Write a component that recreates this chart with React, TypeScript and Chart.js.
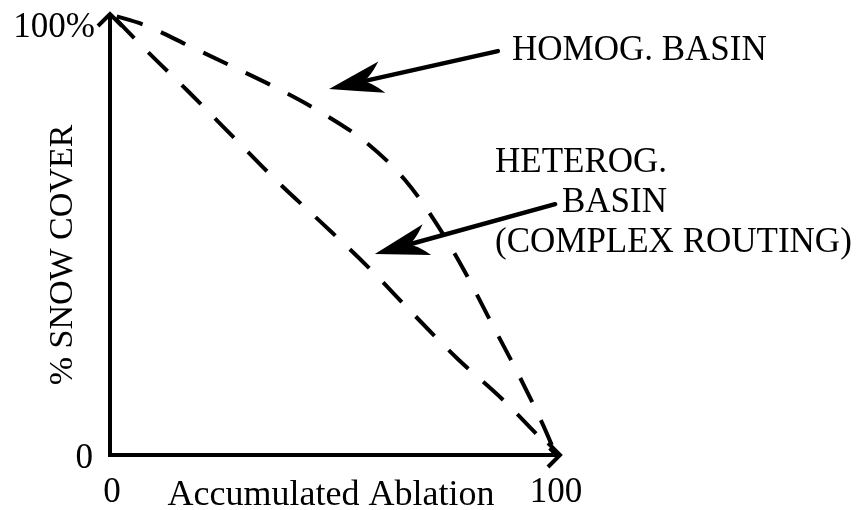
import { useEffect, useRef } from "react";
import { Chart, registerables } from "chart.js";

Chart.register(...registerables);

// Accumulated ablation (%) and snow cover (%)
const homogAblation = [0, 7.4, 16.9, 27.3, 36.7, 47.7, 57.4, 66.0, 73.0, 79.5, 85.1, 91.4, 97.1, 100];
const homogCover = [100, 97.7, 93.2, 88.2, 83.6, 77.5, 70.9, 62.5, 52.7, 41.6, 30.7, 18.6, 6.8, 0];

const heterogAblation = [0, 7.0, 17.3, 27.3, 37.4, 47.3, 57.7, 67.6, 77.7, 88.1, 96.4, 100];
const heterogCover = [100, 92.7, 82.5, 72.3, 62.0, 52.7, 42.7, 32.3, 22.0, 12.5, 3.9, 0];

const xTickLabels = ["0", "100"];
const yTickLabels = ["0", "100%"];
const xTitle = "Accumulated Ablation";
const yTitle = "% SNOW COVER";
const homogLabel = ["HOMOG. BASIN"];
const heterogLabel = ["HETEROG.", "BASIN", "(COMPLEX ROUTING)"];

// annotation arrows in data coordinates: [fromX, fromY, toX, toY]
const homogArrow = [86.9, 91.8, 48.9, 83.2];
const heterogArrow = [99.8, 57.0, 59.2, 45.7];

const FAMILY = '"Liberation Serif", "Times New Roman", serif';
const FONT = "35px " + FAMILY;

function filledArrow(ctx: CanvasRenderingContext2D, x1: number, y1: number, x2: number, y2: number) {
  const dx = x2 - x1, dy = y2 - y1;
  const len = Math.hypot(dx, dy);
  const ux = dx / len, uy = dy / len;
  const nx = -uy, ny = ux;
  const L = 54, W = 16, notch = 0.62 * L;
  ctx.beginPath();
  ctx.moveTo(x1, y1);
  ctx.lineTo(x2 - ux * notch, y2 - uy * notch);
  ctx.lineWidth = 4.5;
  ctx.lineCap = "round";
  ctx.stroke();
  ctx.beginPath();
  ctx.moveTo(x2, y2);
  ctx.quadraticCurveTo(x2 - ux * L * 0.5 + nx * W * 0.5, y2 - uy * L * 0.5 + ny * W * 0.5, x2 - ux * L + nx * W, y2 - uy * L + ny * W);
  ctx.quadraticCurveTo(x2 - ux * L * 0.75, y2 - uy * L * 0.75, x2 - ux * notch, y2 - uy * notch);
  ctx.quadraticCurveTo(x2 - ux * L * 0.75, y2 - uy * L * 0.75, x2 - ux * L - nx * W, y2 - uy * L - ny * W);
  ctx.quadraticCurveTo(x2 - ux * L * 0.5 - nx * W * 0.5, y2 - uy * L * 0.5 - ny * W * 0.5, x2, y2);
  ctx.closePath();
  ctx.fill();
}

function openHead(ctx: CanvasRenderingContext2D, tx: number, ty: number, ux: number, uy: number) {
  const nx = -uy, ny = ux;
  const L = 12, W = 12;
  ctx.beginPath();
  ctx.moveTo(tx - ux * L + nx * W, ty - uy * L + ny * W);
  ctx.lineTo(tx, ty);
  ctx.lineTo(tx - ux * L - nx * W, ty - uy * L - ny * W);
  ctx.stroke();
}

const overlay = {
  id: "overlay",
  afterDatasetsDraw(chart: any) {
    const ctx: CanvasRenderingContext2D = chart.ctx;
    const xs = chart.scales.x, ys = chart.scales.y;
    const px = (v: number) => xs.getPixelForValue(v);
    const py = (v: number) => ys.getPixelForValue(v);
    ctx.save();
    ctx.strokeStyle = "#000";
    ctx.fillStyle = "#000";
    ctx.lineWidth = 4;
    ctx.lineCap = "butt";
    ctx.lineJoin = "miter";

    const ax = px(0) - 2;
    const ay = py(0);
    const yTop = py(100) - 1;
    const xEnd = px(100) + 4;
    // axes
    ctx.beginPath();
    ctx.moveTo(ax, yTop);
    ctx.lineTo(ax, ay);
    ctx.lineTo(xEnd, ay);
    ctx.stroke();
    openHead(ctx, ax, yTop, 0, -1);
    openHead(ctx, xEnd, ay, 1, 0);

    // tick labels & titles
    ctx.font = FONT;
    ctx.textBaseline = "alphabetic";
    ctx.textAlign = "right";
    ctx.fillText(yTickLabels[1], ax - 15, yTop + 23);
    ctx.fillText(yTickLabels[0], ax - 17, ay + 13);
    ctx.textAlign = "center";
    ctx.fillText(xTickLabels[0], px(0), ay + 47);
    ctx.fillText(xTickLabels[1], px(100), ay + 47);
    ctx.font = "36px " + FAMILY;
    ctx.fillText(xTitle, 331, ay + 50);
    ctx.save();
    ctx.translate(72, 255);
    ctx.rotate(-Math.PI / 2);
    ctx.font = "34px " + FAMILY;
    ctx.fillText(yTitle, 0, 0);
    ctx.restore();

    // annotations
    ctx.font = FONT;
    ctx.textAlign = "left";
    ctx.fillText(homogLabel[0], 512, 60);
    ctx.fillText(heterogLabel[0], 495, 172);
    ctx.fillText(heterogLabel[1], 562, 212);
    ctx.fillText(heterogLabel[2], 495, 252);

    filledArrow(ctx, px(homogArrow[0]), py(homogArrow[1]), px(homogArrow[2]), py(homogArrow[3]));
    filledArrow(ctx, px(heterogArrow[0]), py(heterogArrow[1]), px(heterogArrow[2]), py(heterogArrow[3]));
    ctx.restore();
  },
};

export default function App() {
  const ref = useRef<HTMLCanvasElement>(null);
  useEffect(() => {
    const mk = (xsv: number[], ysv: number[]) => xsv.map((x, i) => ({ x, y: ysv[i] }));
    const common = {
      borderColor: "#000",
      borderWidth: 4,
      borderDash: [27, 20],
      borderDashOffset: -5,
      pointRadius: 0,
      fill: false,
      cubicInterpolationMode: "monotone",
      clip: false,
    };
    const chart = new Chart(ref.current!, {
      type: "line",
      data: {
        datasets: [
          { label: "Homog. basin", data: mk(homogAblation, homogCover), ...common } as any,
          { label: "Heterog. basin", data: mk(heterogAblation, heterogCover), ...common } as any,
        ],
      },
      options: {
        responsive: false,
        animation: false,
        layout: { padding: { left: 112, right: 306, top: 15, bottom: 55 } },
        scales: {
          x: { type: "linear", min: 0, max: 100, display: false },
          y: { type: "linear", min: 0, max: 100, display: false },
        },
        plugins: { legend: { display: false }, tooltip: { enabled: false } },
      },
      plugins: [overlay],
    });
    return () => chart.destroy();
  }, []);
  return (
    <div style={{ position: "fixed", left: 0, top: 0, width: 862, height: 510, background: "#fff" }}>
      <canvas ref={ref} width={862} height={510} style={{ display: "block" }} />
    </div>
  );
}
